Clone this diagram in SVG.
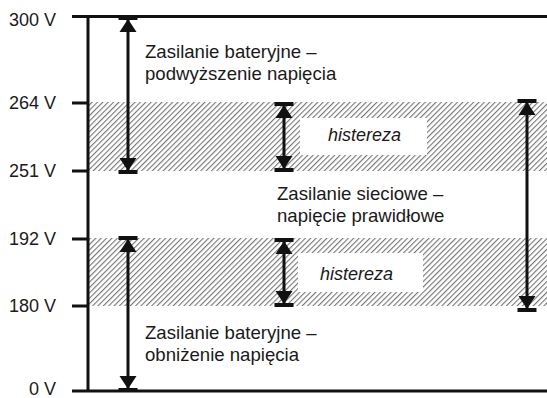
<svg xmlns="http://www.w3.org/2000/svg" width="547" height="398" viewBox="0 0 547 398">
<style>
.lbl{font-family:"Liberation Sans",Arial,sans-serif;font-size:18.6px;fill:#1a1a1a}
.tick{font-family:"Liberation Sans",Arial,sans-serif;font-size:18px;fill:#1a1a1a;text-anchor:end}
.hist{font-family:"Liberation Sans",Arial,sans-serif;font-size:18px;font-style:italic;fill:#1a1a1a}
.ax{stroke:#111;stroke-width:3;fill:none}
.arr{stroke:#111;stroke-width:3;fill:none;marker-start:url(#cap);marker-end:url(#cap)}
</style>
<defs>
<pattern id="hatch" patternUnits="userSpaceOnUse" width="3.8" height="10" patternTransform="rotate(45)">
<line x1="0.6" y1="-1" x2="0.6" y2="11" stroke="#666" stroke-width="1"/>
</pattern>
<marker id="cap" markerUnits="userSpaceOnUse" orient="auto-start-reverse" refX="0" refY="0" markerWidth="30" markerHeight="30" overflow="visible">
<rect x="-2" y="-9.5" width="4" height="19" fill="#111"/>
<polygon points="-1,0 -14,-8.5 -14,8.5" fill="#111"/>
</marker>
</defs>
<g id="bands">
<rect x="89" y="102" width="458" height="69" fill="url(#hatch)"/>
<rect x="89" y="238" width="458" height="68" fill="url(#hatch)"/>
<rect x="300" y="118" width="127" height="37" fill="#fff"/>
<rect x="298" y="253" width="125" height="39" fill="#fff"/>
</g>
<g id="axis">
<line class="ax" x1="72" y1="16.5" x2="547" y2="16.5"/>
<line class="ax" x1="72" y1="391" x2="547" y2="391"/>
<line class="ax" x1="88" y1="16.5" x2="88" y2="391"/>
<line class="ax" x1="72" y1="103" x2="88" y2="103"/>
<line class="ax" x1="72" y1="171" x2="88" y2="171"/>
<line class="ax" x1="72" y1="239" x2="88" y2="239"/>
<line class="ax" x1="72" y1="306" x2="88" y2="306"/>
</g>
<g id="ticks">
<text class="tick" x="56" y="26">300 V</text>
<text class="tick" x="56" y="109">264 V</text>
<text class="tick" x="56" y="177">251 V</text>
<text class="tick" x="56" y="245">192 V</text>
<text class="tick" x="56" y="312">180 V</text>
<text class="tick" x="56" y="395">0 V</text>
</g>
<g id="connectors">
<line class="arr" x1="128" y1="18" x2="128" y2="172"/>
<line class="arr" x1="128" y1="238" x2="128" y2="390"/>
<line class="arr" x1="284" y1="104" x2="284" y2="170"/>
<line class="arr" x1="284" y1="240" x2="284" y2="305"/>
<line class="arr" x1="527" y1="101" x2="527" y2="310"/>
</g>
<g id="node-battery-high">
<text class="lbl" x="145" y="58">Zasilanie bateryjne –</text>
<text class="lbl" x="145" y="80">podwyższenie napięcia</text>
</g>
<g id="node-hist-upper">
<text class="hist" x="328" y="141">histereza</text>
</g>
<g id="node-mains">
<text class="lbl" x="277" y="200">Zasilanie sieciowe –</text>
<text class="lbl" x="277" y="222">napięcie prawidłowe</text>
</g>
<g id="node-hist-lower">
<text class="hist" x="320" y="280">histereza</text>
</g>
<g id="node-battery-low">
<text class="lbl" x="145" y="339">Zasilanie bateryjne –</text>
<text class="lbl" x="145" y="361">obniżenie napięcia</text>
</g>
</svg>
